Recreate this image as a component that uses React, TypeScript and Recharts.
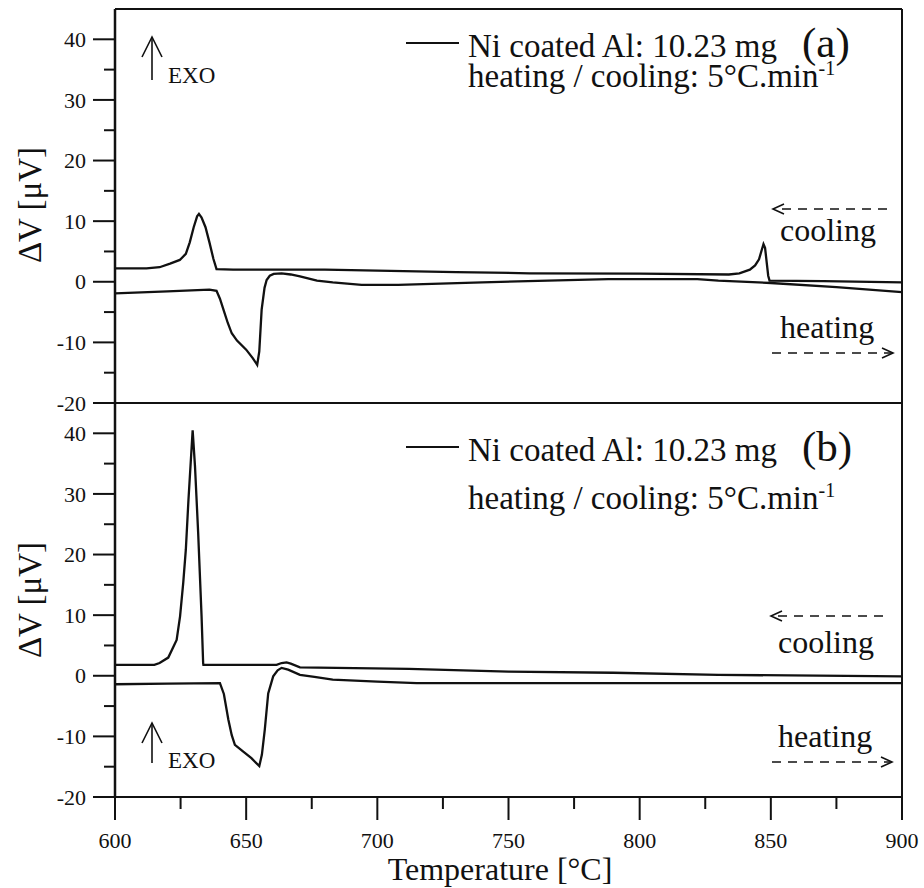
import React from 'react';
import { LineChart, Line, XAxis, YAxis, ReferenceLine } from 'recharts';

// panel (a) – cooling / heating traces, [temperature °C, ΔV µV]
const coolingA: [number, number][] = [
  [600, 2.2], [612, 2.2], [617, 2.4], [621, 3.0], [624.7, 3.6], [627, 4.6], [628.5, 6.5],
  [630, 9.0], [631.3, 10.8], [632, 11.2], [633, 10.6], [634.5, 9.0], [636, 6.5], [637.5, 3.8],
  [638.7, 2.1], [645, 2.0], [680, 2.0], [705, 1.8], [730, 1.6], [758, 1.4], [800, 1.35],
  [834, 1.2], [838, 1.4], [842, 2.0], [844, 2.7], [845.5, 3.7], [846.5, 5.2], [847.2, 6.2],
  [847.8, 5.6], [848.4, 3.3], [849, 1.0], [849.5, 0.2], [870, 0.1], [900, -0.1],
];
const heatingA: [number, number][] = [
  [600, -1.9], [620, -1.6], [636, -1.3], [638.7, -1.5], [640, -2.8], [641.5, -4.8], [643, -6.8],
  [644.5, -8.5], [646.5, -9.7], [650, -11.2], [652.5, -12.6], [654.2, -13.7], [655, -11.5],
  [655.9, -4.6], [657, -1.0], [657.8, 0.3], [659, 1.0], [660.5, 1.3], [663.5, 1.4], [667, 1.2],
  [670.5, 0.9], [677, 0.2], [683, -0.1], [694, -0.5], [708, -0.5], [740, -0.1], [765, 0.2],
  [788, 0.45], [822, 0.45], [830, 0.2], [850, -0.2], [875, -0.9], [900, -1.7],
];

// panel (b)
const coolingB: [number, number][] = [
  [600, 1.8], [615, 1.8], [617, 2.1], [620.3, 3.0], [623.5, 5.9], [624.8, 9.8], [626, 15.3],
  [627, 20.8], [628, 29], [629.6, 40.5], [630.5, 34.5], [631.7, 23.6], [633, 9.8], [633.6, 2.1],
  [633.7, 1.8], [661.6, 1.8], [663.5, 2.1], [665.4, 2.2], [667, 2.0], [670.5, 1.4], [712, 1.15],
  [750, 0.7], [790, 0.5], [830, 0.15], [900, -0.1],
];
const heatingB: [number, number][] = [
  [600, -1.4], [620, -1.3], [640, -1.2], [641.5, -3], [643.2, -7.2], [644.5, -9.8], [645.7, -11.4],
  [648.9, -12.5], [652, -13.6], [655, -14.9], [656, -13], [657.1, -8.9], [658.4, -2.9],
  [660.3, -0.1], [662, 0.9], [663.5, 1.3], [666, 1.0], [670.5, 0.15], [676, -0.2], [683, -0.65],
  [700, -0.95], [715, -1.2], [750, -1.2], [800, -1.2], [900, -1.2],
];

const xTicks = [600, 625, 650, 675, 700, 725, 750, 775, 800, 825, 850, 875, 900];
const yTicks = [-20, -15, -10, -5, 0, 5, 10, 15, 20, 25, 30, 35, 40];
const xDomain: [number, number] = [600, 900];
const yDomain: [number, number] = [-20, 45];

const toPts = (arr: [number, number][]) => arr.map(([t, v]) => ({ t, v }));

const FONT = "'Liberation Serif'";
const INK = '#111';
const serif = { fontFamily: FONT };

const YTick = (props: any) => {
  const { x, y, payload } = props;
  const major = payload.value % 10 === 0;
  const len = major ? 22 : 11;
  return (
    <g>
      <line x1={x - len} x2={x} y1={y} y2={y} stroke={INK} strokeWidth={2} />
      {major && (
        <text x={x - len - 7} y={y} dy="0.35em" textAnchor="end" style={serif} fontSize={22} fill={INK}>
          {payload.value}
        </text>
      )}
    </g>
  );
};

const XTick = (props: any) => {
  const { x, y, payload } = props;
  const major = payload.value % 50 === 0;
  const len = major ? 23 : 12;
  return (
    <g>
      <line x1={x} x2={x} y1={y} y2={y + len} stroke={INK} strokeWidth={2} />
      {major && (
        <text x={x} y={y + 51} textAnchor="middle" style={serif} fontSize={22} fill={INK}>
          {payload.value}
        </text>
      )}
    </g>
  );
};

const series = (cool: [number, number][], heat: [number, number][]) => [
  <Line key="c" data={toPts(cool)} dataKey="v" type="linear" stroke={INK} strokeWidth={2.3} dot={false} isAnimationActive={false} />,
  <Line key="h" data={toPts(heat)} dataKey="v" type="linear" stroke={INK} strokeWidth={2.3} dot={false} isAnimationActive={false} />,
];

const yAxis = (
  <YAxis
    type="number"
    domain={yDomain}
    ticks={yTicks}
    allowDataOverflow
    width={115}
    tickSize={0}
    tickMargin={0}
    tickLine={false}
    axisLine={{ stroke: INK, strokeWidth: 2.5 }}
    tick={<YTick />}
    interval={0}
  />
);

const Arrow = ({ x1, x2, y }: { x1: number; x2: number; y: number }) => {
  const dir = x2 > x1 ? 1 : -1;
  return (
    <g stroke={INK} strokeWidth={1.6} fill="none">
      <line x1={x1} x2={x2} y1={y} y2={y} strokeDasharray="9 7" />
      <polyline points={`${x2 - dir * 11},${y - 5} ${x2},${y} ${x2 - dir * 11},${y + 5}`} />
    </g>
  );
};

const Exo = ({ x, top, bottom, baseline }: { x: number; top: number; bottom: number; baseline: number }) => (
  <g>
    <g stroke={INK} strokeWidth={1.6} fill="none">
      <line x1={x} x2={x} y1={top} y2={bottom} />
      <polyline points={`${x - 10},${top + 20} ${x},${top} ${x + 10},${top + 20}`} />
    </g>
    <text x={x + 16} y={baseline} style={serif} fontSize={23} fill={INK}>EXO</text>
  </g>
);

const Notes = ({ dy, tag, dy2 }: { dy: number; tag: string; dy2: number }) => (
  <g fill={INK}>
    <line x1={406} x2={459} y1={43 + dy} y2={43 + dy} stroke={INK} strokeWidth={2} />
    <text x={468} y={57 + dy} fontSize={33} style={serif}>Ni coated Al: 10.23 mg</text>
    <text x={802} y={57 + dy} fontSize={43} style={serif}>{tag}</text>
    <text x={468} y={57 + dy + dy2} fontSize={33} style={serif}>
      heating / cooling: 5°C.min<tspan fontSize={20} dy={-12}>-1</tspan>
    </text>
  </g>
);

export default function App() {
  return (
    <div style={{ position: 'absolute', left: 0, top: 0, width: 924, height: 888, background: '#fff' }}>
      <div style={{ position: 'absolute', left: 0, top: 0 }}>
        <LineChart width={924} height={420} margin={{ top: 9, right: 22, bottom: 17, left: 0 }}>
          <XAxis type="number" dataKey="t" domain={xDomain} allowDataOverflow hide />
          {yAxis}
          <ReferenceLine y={45} stroke={INK} strokeWidth={2} />
          <ReferenceLine y={-20} stroke={INK} strokeWidth={2} />
          <ReferenceLine x={900} stroke={INK} strokeWidth={2} />
          {series(coolingA, heatingA)}
        </LineChart>
      </div>
      <div style={{ position: 'absolute', left: 0, top: 403 }}>
        <LineChart width={924} height={485} margin={{ top: 0, right: 22, bottom: 0, left: 0 }}>
          <XAxis
            type="number"
            dataKey="t"
            domain={xDomain}
            ticks={xTicks}
            allowDataOverflow
            height={91}
            tickSize={0}
            tickMargin={0}
            tickLine={false}
            axisLine={{ stroke: INK, strokeWidth: 2 }}
            tick={<XTick />}
            interval={0}
          />
          {yAxis}
          <ReferenceLine y={45} stroke={INK} strokeWidth={2} />
          <ReferenceLine x={900} stroke={INK} strokeWidth={2} />
          {series(coolingB, heatingB)}
        </LineChart>
      </div>
      <svg width={924} height={888} style={{ position: 'absolute', left: 0, top: 0, pointerEvents: 'none' }}>
        <Notes dy={0} tag="(a)" dy2={30} />
        <Notes dy={404} tag="(b)" dy2={48} />
        <Exo x={152} top={37} bottom={80} baseline={83} />
        <Exo x={152} top={723} bottom={763} baseline={768} />
        <Arrow x1={887} x2={773} y={209} />
        <Arrow x1={772} x2={893} y={353} />
        <Arrow x1={883} x2={771} y={616} />
        <Arrow x1={772} x2={892} y={762} />
        <g fontSize={32} fill={INK}>
          <text x={780} y={241} style={serif}>cooling</text>
          <text x={780} y={338} style={serif}>heating</text>
          <text x={778} y={653} style={serif}>cooling</text>
          <text x={778} y={747} style={serif}>heating</text>
          <text x={500} y={880} textAnchor="middle" style={serif}>Temperature [°C]</text>
          <text transform="translate(41,205) rotate(-90)" textAnchor="middle" fontSize={33} style={serif}>ΔV [μV]</text>
          <text transform="translate(41,600) rotate(-90)" textAnchor="middle" fontSize={33} style={serif}>ΔV [μV]</text>
        </g>
      </svg>
    </div>
  );
}
